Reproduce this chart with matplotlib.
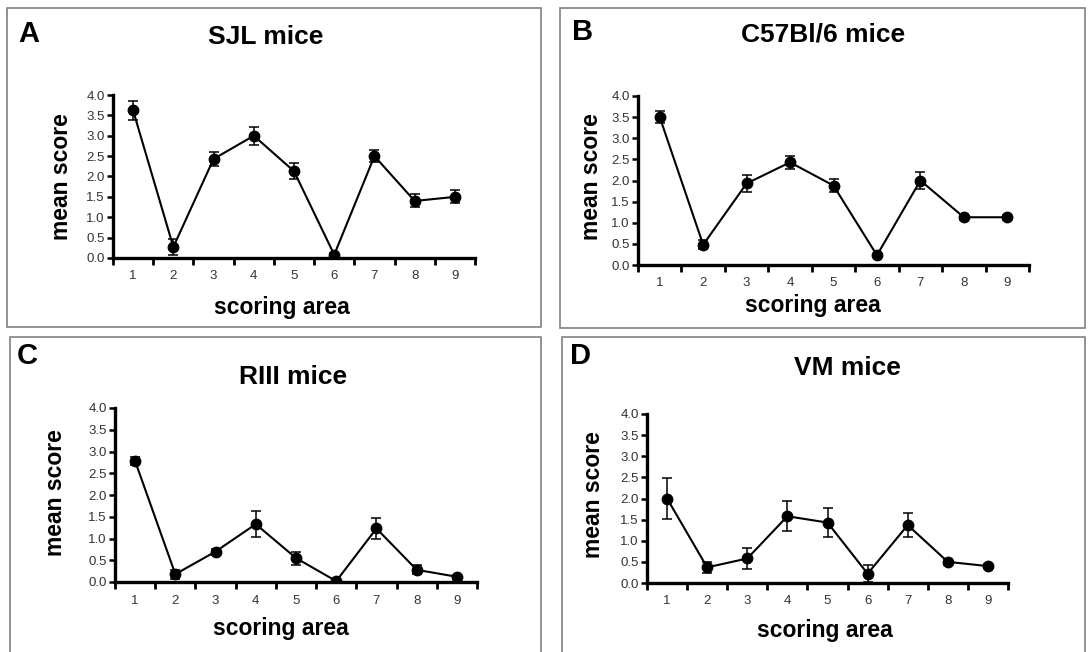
import numpy as np
import matplotlib
matplotlib.use("Agg")
import matplotlib.pyplot as plt
from matplotlib.patches import Rectangle

plt.rcParams['font.family'] = ['Liberation Sans', 'DejaVu Sans']

# scoring areas
areas = np.arange(1, 10)

# mean score and error per strain
sjl_mean = [3.62, 0.27, 2.43, 3.0, 2.13, 0.08, 2.5, 1.4, 1.5]
sjl_err = [0.23, 0.2, 0.17, 0.22, 0.19, 0.05, 0.15, 0.16, 0.16]
c57_mean = [3.5, 0.48, 1.93, 2.43, 1.88, 0.23, 2.0, 1.13, 1.13]
c57_err = [0.15, 0.1, 0.2, 0.15, 0.15, 0.04, 0.2, 0.06, 0.06]
riii_mean = [2.78, 0.18, 0.7, 1.33, 0.55, 0.02, 1.23, 0.28, 0.12]
riii_err = [0.1, 0.1, 0.07, 0.3, 0.15, 0.02, 0.25, 0.1, 0.05]
vm_mean = [2.0, 0.37, 0.58, 1.58, 1.43, 0.22, 1.37, 0.5, 0.4]
vm_err = [0.48, 0.13, 0.24, 0.35, 0.35, 0.2, 0.28, 0.07, 0.05]

W, H = 1089, 652
fig = plt.figure(figsize=(W / 100, H / 100), dpi=100)

# panel layout in pixel coords
panels = [
    dict(letter="A", title="SJL mice", mean=sjl_mean, err=sjl_err,
         box=(7, 8, 541, 327), ax=(113, 95, 475, 258),
         letter_xy=(29, 34), title_xy=(266, 37), xl_xy=(282, 308), yl_xy=(62, 177)),
    dict(letter="B", title="C57Bl/6 mice", mean=c57_mean, err=c57_err,
         box=(560, 8, 1085, 328), ax=(638, 96, 1029, 265),
         letter_xy=(583, 32), title_xy=(823, 34), xl_xy=(813, 305), yl_xy=(592, 177)),
    dict(letter="C", title="RIII mice", mean=riii_mean, err=riii_err,
         box=(10, 337, 541, 660), ax=(115, 408, 477, 582),
         letter_xy=(27, 356), title_xy=(293, 377), xl_xy=(281, 628), yl_xy=(56, 493)),
    dict(letter="D", title="VM mice", mean=vm_mean, err=vm_err,
         box=(562, 337, 1085, 660), ax=(647, 414, 1008, 583),
         letter_xy=(581, 356), title_xy=(847, 368), xl_xy=(825, 630), yl_xy=(594, 495)),
]


def fx(px):
    return px / W


def fy(py):
    return 1 - py / H


for p in panels:
    x0, y0, x1, y1 = p["box"]
    fig.patches.append(Rectangle((fx(x0), fy(y1)), fx(x1 - x0), (y1 - y0) / H,
                                 transform=fig.transFigure, fill=False,
                                 edgecolor="#808080", linewidth=1.2))
    ax0, ay0, ax1, ay1 = p["ax"]
    ax = fig.add_axes([fx(ax0), fy(ay1), fx(ax1 - ax0), (ay1 - ay0) / H])
    ax.errorbar(areas, p["mean"], yerr=p["err"], color="black", marker="o",
                markersize=7.5, linewidth=1.5, elinewidth=1.1, capsize=3.5,
                capthick=1.1)
    ax.set_xlim(0.5, 9.5)
    ax.set_ylim(0, 4.0)
    ax.set_yticks(np.arange(0, 4.01, 0.5))
    ax.set_yticklabels([f"{v:.1f}" for v in np.arange(0, 4.01, 0.5)])
    ax.set_xticks(np.arange(0.5, 9.6, 1.0))
    ax.set_xticklabels([])
    ax.set_xticks(areas, minor=True)
    ax.set_xticklabels([str(a) for a in areas], minor=True)
    ax.tick_params(axis="x", which="minor", length=0, labelsize=9.5, pad=9,
                   labelcolor="#333333")
    ax.tick_params(axis="x", which="major", length=5, width=2, direction="out")
    ax.tick_params(axis="y", length=4, width=1.8, labelsize=9.5, pad=2,
                   labelcolor="#333333")
    for s in ("top", "right"):
        ax.spines[s].set_visible(False)
    for s in ("left", "bottom"):
        ax.spines[s].set_linewidth(2.4)
    ax.patch.set_alpha(0)

    fig.text(fx(p["letter_xy"][0]), fy(p["letter_xy"][1]), p["letter"],
             fontsize=21, fontweight="bold", ha="center", va="center")
    fig.text(fx(p["title_xy"][0]), fy(p["title_xy"][1]), p["title"],
             fontsize=19, fontweight="bold", ha="center", va="center")
    fig.text(fx(p["xl_xy"][0]), fy(p["xl_xy"][1]), "scoring area",
             fontsize=16.5, fontweight="bold", ha="center", va="center")
    fig.text(fx(p["yl_xy"][0]), fy(p["yl_xy"][1]), "mean score",
             fontsize=16.5, fontweight="bold", ha="center", va="center",
             rotation=90)

fig.savefig("out.png", dpi=100)
